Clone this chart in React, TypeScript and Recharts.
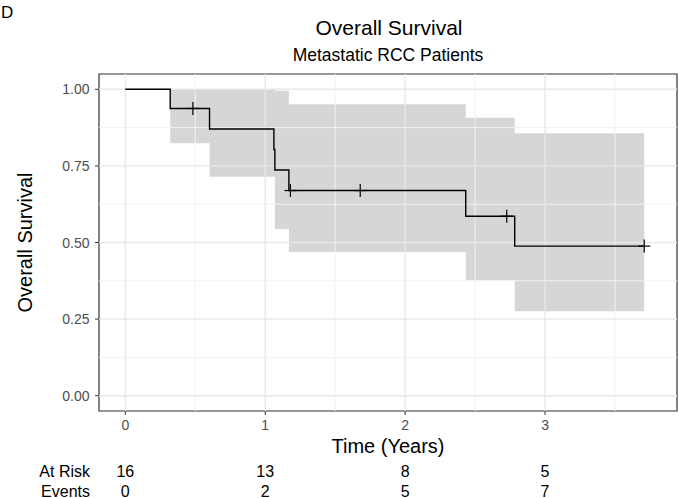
import React from 'react';
import {
  ComposedChart,
  Area,
  Line,
  Scatter,
  XAxis,
  YAxis,
  ReferenceLine,
  ReferenceArea,
} from 'recharts';

// Kaplan-Meier estimate (time in years)
const stepTimes = [0, 0.321, 0.602, 1.062, 1.069, 1.169, 2.433, 2.783, 3.709];
const survival = [1.0, 0.9375, 0.8705, 0.8035, 0.7366, 0.6696, 0.5859, 0.4883, 0.4883];

// confidence band
const bandTimes = [0, 0.321, 0.602, 1.069, 1.169, 2.433, 2.783, 3.709];
const bandLower = [1.0, 0.824, 0.715, 0.544, 0.469, 0.377, 0.276, 0.276];
const bandUpper = [1.0, 1.0, 1.0, 0.995, 0.951, 0.907, 0.857, 0.857];

// censored observations
const censorTimes = [0.483, 1.18, 1.679, 2.726, 3.709];
const censorSurv = [0.9375, 0.6696, 0.6696, 0.5859, 0.4883];

// risk table
const riskTimes = [0, 1, 2, 3];
const atRisk = [16, 13, 8, 5];
const events = [0, 2, 5, 7];

const xTicks = [0, 1, 2, 3];
const xMinor = [0.5, 1.5, 2.5, 3.5];
const yTicks = [0, 0.25, 0.5, 0.75, 1];
const yMinor = [0.125, 0.375, 0.625, 0.875];

const X_DOMAIN: [number, number] = [-0.188, 3.943];
const Y_DOMAIN: [number, number] = [-0.05, 1.05];

const FONT = '"Liberation Sans", Arial, Helvetica, sans-serif';

const kmData = stepTimes.map((t, i) => ({ t, s: survival[i] }));
const bandData = bandTimes.map((t, i) => ({ t, band: [bandLower[i], bandUpper[i]] }));
const censorData = censorTimes.map((t, i) => ({ t, s: censorSurv[i] }));

const CensorMark = (props: any) => {
  const { cx, cy } = props;
  if (cx == null || cy == null) return null;
  return (
    <g stroke="#000" strokeWidth={1.2}>
      <line x1={cx} x2={cx} y1={cy - 6.5} y2={cy + 6.5} />
      <line x1={cx - 6} x2={cx + 6} y1={cy} y2={cy} />
    </g>
  );
};

const XTick = (props: any) => {
  const { x, payload } = props;
  return (
    <text x={x} y={430} fontFamily={FONT} fontSize={14} fill="#4d4d4d" textAnchor="middle">
      {payload.value}
    </text>
  );
};

const YTick = (props: any) => {
  const { y, payload } = props;
  return (
    <text x={89.5} y={y + 5} fontFamily={FONT} fontSize={14} fill="#4d4d4d" textAnchor="end">
      {Number(payload.value).toFixed(2)}
    </text>
  );
};

const RiskTick = (props: any) => {
  const { x, payload } = props;
  const i = riskTimes.indexOf(payload.value);
  if (i < 0) return null;
  return (
    <g fontFamily={FONT} fontSize={16} fill="#000" textAnchor="middle">
      <text x={x} y={477}>{atRisk[i]}</text>
      <text x={x} y={496.5}>{events[i]}</text>
    </g>
  );
};

export default function App() {
  return (
    <div style={{ position: 'absolute', left: 0, top: 0, width: 679, height: 498, background: '#fff' }}>
      <ComposedChart
        width={679}
        height={498}
        margin={{ top: 74, right: 2, left: 0, bottom: 0 }}
      >
        <XAxis
          type="number"
          dataKey="t"
          domain={X_DOMAIN}
          ticks={xTicks}
          allowDataOverflow
          axisLine={false}
          tickLine={{ stroke: '#333333' }}
          tickSize={4}
          height={48}
          tick={<XTick />}
        />
        <XAxis
          xAxisId="risk"
          type="number"
          dataKey="t"
          domain={X_DOMAIN}
          ticks={riskTimes}
          allowDataOverflow
          axisLine={false}
          tickLine={false}
          tickSize={0}
          height={39}
          tick={<RiskTick />}
        />
        <YAxis
          type="number"
          domain={Y_DOMAIN}
          ticks={yTicks}
          allowDataOverflow
          axisLine={false}
          tickLine={{ stroke: '#333333' }}
          tickSize={4}
          width={99}
          tick={<YTick />}
        />

        {xMinor.map((v) => (
          <ReferenceLine key={'xm' + v} x={v} stroke="#f2f2f2" strokeWidth={1} />
        ))}
        {yMinor.map((v) => (
          <ReferenceLine key={'ym' + v} y={v} stroke="#f2f2f2" strokeWidth={1} />
        ))}
        {xTicks.map((v) => (
          <ReferenceLine key={'xM' + v} x={v} stroke="#e8e8e8" strokeWidth={1.4} />
        ))}
        {yTicks.map((v) => (
          <ReferenceLine key={'yM' + v} y={v} stroke="#e8e8e8" strokeWidth={1.4} />
        ))}

        <Area
          data={bandData}
          dataKey="band"
          type="stepAfter"
          stroke="none"
          fill="#000"
          fillOpacity={0.16}
          isAnimationActive={false}
        />
        <Line
          data={kmData}
          dataKey="s"
          type="stepAfter"
          stroke="#000"
          strokeWidth={1.4}
          dot={false}
          activeDot={false}
          isAnimationActive={false}
        />
        <Scatter
          data={censorData}
          dataKey="s"
          shape={<CensorMark />}
          isAnimationActive={false}
        />
        <ReferenceArea
          x1={X_DOMAIN[0]}
          x2={X_DOMAIN[1]}
          y1={Y_DOMAIN[0]}
          y2={Y_DOMAIN[1]}
          fill="none"
          stroke="#333333"
          strokeWidth={1.2}
        />
      </ComposedChart>

      <svg
        width={679}
        height={498}
        style={{ position: 'absolute', left: 0, top: 0, pointerEvents: 'none' }}
        fontFamily={FONT}
      >
        <text x={1} y={18} fontSize={17} fill="#000">D</text>
        <text x={389} y={35} fontSize={21} textAnchor="middle" fill="#000">Overall Survival</text>
        <text x={388} y={61} fontSize={17.5} textAnchor="middle" fill="#000">Metastatic RCC Patients</text>
        <text x={388} y={453} fontSize={20} textAnchor="middle" fill="#000">Time (Years)</text>
        <text
          x={31.5}
          y={242.5}
          fontSize={20}
          textAnchor="middle"
          fill="#000"
          transform="rotate(-90 31.5 242.5)"
        >
          Overall Survival
        </text>
        <text x={90} y={477} fontSize={16} textAnchor="end" fill="#000">At Risk</text>
        <text x={90} y={496.5} fontSize={16} textAnchor="end" fill="#000">Events</text>
      </svg>
    </div>
  );
}
